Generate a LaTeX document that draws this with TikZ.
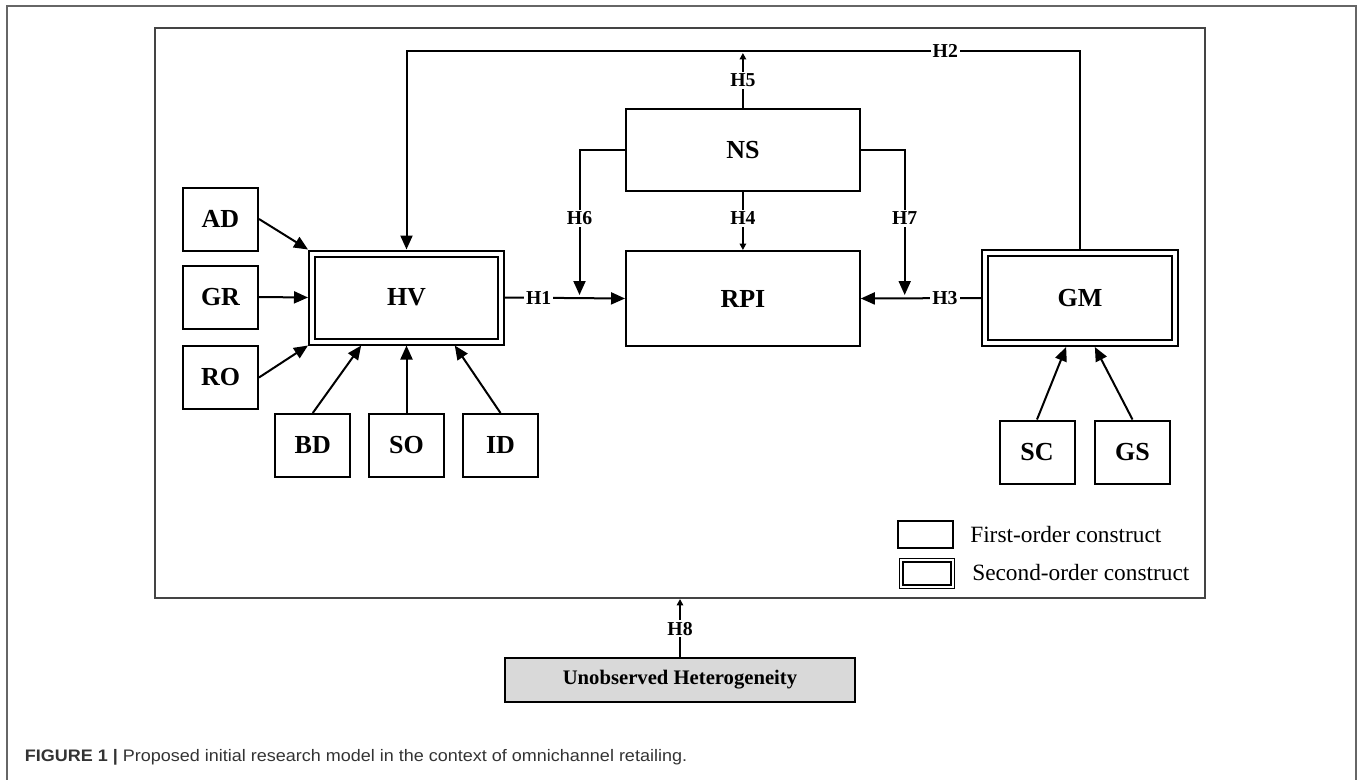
\documentclass[tikz,border=0pt]{standalone}
\usepackage{fontspec}
\setmainfont{Liberation Serif}
\newfontfamily\capfont[FakeStretch=1.08]{Liberation Sans}
\usetikzlibrary{arrows.meta,calc}
\definecolor{framegray}{HTML}{666666}
\definecolor{innergray}{HTML}{444444}
\definecolor{unobsfill}{HTML}{D9D9D9}
\definecolor{captxt}{HTML}{333333}
\begin{document}
\begin{tikzpicture}[x=0.75pt,y=-0.75pt,
  firstbox/.style={draw, line width=1.5pt, inner sep=0pt, font=\bfseries\fontsize{19.5}{22}\selectfont},
  smallbox/.style={firstbox, minimum width=56.25pt, minimum height=47.25pt},
  secondbox/.style={draw, double, double distance=3pt, line width=1.5pt, outer sep=3pt, inner sep=0pt, font=\bfseries\fontsize{19.5}{22}\selectfont},
  hlabel/.style={fill=white, inner sep=1.5pt, font=\bfseries\fontsize{14.8}{16}\selectfont},
  conn/.style={line width=1.5pt},
  bigarrow/.style={conn, -{Triangle[length=10.5pt,width=9pt]}},
  smallarrow/.style={conn, -{Triangle[length=4.8pt,width=4.8pt]}},
  legtext/.style={anchor=west, inner sep=0pt, font=\fontsize{17.5}{20}\selectfont}
]
\useasboundingbox (0,0) rectangle (1360,779);
% outer figure frame
\draw[framegray, line width=1.5pt] (7.3,800) -- (7.3,6) -- (1355.7,6) -- (1355.7,800);
% inner model frame
\draw[innergray, line width=1.1pt] (155,28) rectangle (1204.8,598);
\coordinate (fb) at (680,599);

% first-order constructs
\node[smallbox] (AD) at (220.5,219) {AD};
\node[smallbox] (GR) at (220.5,297) {GR};
\node[smallbox] (RO) at (220.5,377.5) {RO};
\node[smallbox] (BD) at (312.75,445.5) {BD};
\node[smallbox] (SO) at (406.5,445.5) {SO};
\node[smallbox] (ID) at (500.5,445.5) {ID};
\node[smallbox] (SC) at (1037,452) {SC};
\node[smallbox] (GS) at (1132.5,452) {GS};
\node[firstbox, minimum width=175.3pt, minimum height=61.5pt] (NS) at (742.9,150) {NS};
\node[firstbox, minimum width=175.3pt, minimum height=71.25pt] (RPI) at (742.9,298.5) {RPI};

% second-order constructs
\node[secondbox, minimum width=141.75pt, minimum height=66pt] (HV) at (406.5,297.5) {HV};
\node[secondbox, minimum width=142.5pt, minimum height=67.5pt] (GM) at (1080,298) {GM};

% unobserved heterogeneity
\node[draw, line width=1.5pt, fill=unobsfill, minimum width=262.5pt, minimum height=33pt, inner sep=0pt,
  font=\bfseries\fontsize{15.5}{18}\selectfont] (UH) at (680,680) {Unobserved Heterogeneity};

% legend
\node[draw, line width=1.3pt, minimum width=41.25pt, minimum height=20.25pt, inner sep=0pt] (L1) at (925.5,534.5) {};
\node[draw, double, double distance=1.6pt, line width=1pt, outer sep=1.8pt, minimum width=38.5pt, minimum height=19.75pt, inner sep=0pt] (L2) at (927,573.5) {};
\node[legtext] (L1t) at (970,535) {First-order construct};
\node[legtext] (L2t) at (972,573) {Second-order construct};

% indicator arrows to HV
\draw[bigarrow] (AD.east) -- (HV.north west);
\draw[bigarrow] (GR.east) -- (HV.west);
\draw[bigarrow] (RO.east) -- (HV.south west);
\draw[bigarrow] (BD.north) -- ($(HV.south west)!0.27!(HV.south east)$);
\draw[bigarrow] (SO.north) -- (HV.south);
\draw[bigarrow] (ID.north) -- ($(HV.south west)!0.745!(HV.south east)$);
% indicator arrows to GM
\draw[bigarrow] (SC.north) -- ($(GM.south west)!0.43!(GM.south east)$);
\draw[bigarrow] (GS.north) -- ($(GM.south west)!0.575!(GM.south east)$);

% structural paths
\coordinate (topL) at (406.5,51);
\coordinate (h5top) at (743.6,53);
\coordinate (h6end) at (579.5,295);
\coordinate (h7end) at (904.7,295);
\draw[bigarrow] (GM.north) |- node[hlabel, pos=0.6] {H2} (topL) -- (HV.north);
\draw[smallarrow] (NS.north) -- node[hlabel] {H5} (NS.north |- h5top);
\draw[smallarrow] (NS.south) -- node[hlabel, pos=0.45] {H4} (RPI.north);
\draw[bigarrow] (NS.west) -| node[hlabel, pos=0.736] {H6} (h6end);
\draw[bigarrow] (NS.east) -| node[hlabel, pos=0.736] {H7} (h7end);
\draw[bigarrow] (HV.east) -- node[hlabel, pos=0.28] {H1} (RPI.west);
\draw[bigarrow] (GM.west) -- node[hlabel, pos=0.3] {H3} (RPI.east);
\draw[smallarrow] (UH.north) -- node[hlabel, pos=0.49] {H8} (fb);

% caption
\node[anchor=base west, inner sep=0pt, text=captxt, font=\capfont\fontsize{12.5}{14}\selectfont] (cap) at (24.5,761)
  {\textbf{FIGURE 1 |} Proposed initial research model in the context of omnichannel retailing.};
\end{tikzpicture}
\end{document}
